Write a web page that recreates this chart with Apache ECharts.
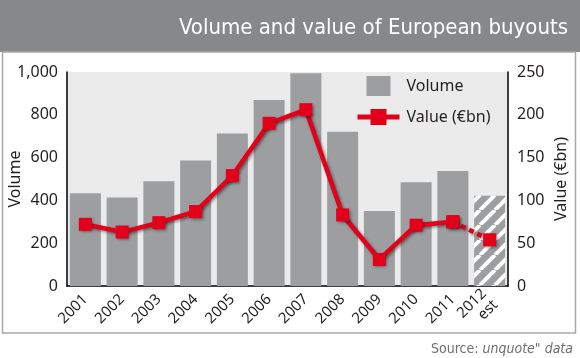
<!DOCTYPE html>
<html>
<head>
<meta charset="utf-8">
<script src="https://cdn.jsdelivr.net/npm/echarts@6/dist/echarts.min.js"></script>
<style>
html,body{margin:0;padding:0;background:#fff;}
#c{width:580px;height:358px;}
</style>
</head>
<body>
<div id="c"></div>
<script>
var categories = ['2001','2002','2003','2004','2005','2006','2007','2008','2009','2010','2011','2012\nest'];
var volume = [433, 413, 489, 586, 713, 869, 994, 721, 350, 485, 537, 422];
var valueBn = [72, 63, 74, 87, 129, 190, 206, 83, 31, 71, 75, 54];
var estimateIndex = 11;
var volumeTicks = {min: 0, max: 1000, interval: 200};
var valueTicks = {min: 0, max: 250, interval: 50};

var RED = '#e3001b';
var BAR = '#9d9ea0';
var FONT = '"Noto Sans", "Open Sans", sans-serif';
var NARROW = '"DejaVu Sans Condensed", "Liberation Sans Narrow", sans-serif';

function hatch() {
  var s = 15;
  var cv = document.createElement('canvas');
  cv.width = s; cv.height = s;
  var ctx = cv.getContext('2d');
  ctx.fillStyle = BAR;
  ctx.fillRect(0, 0, s, s);
  ctx.strokeStyle = '#ffffff';
  ctx.lineWidth = 4;
  [0, s, 2 * s].forEach(function (c) {
    ctx.beginPath();
    ctx.moveTo(c, 0);
    ctx.lineTo(c - s, s);
    ctx.stroke();
  });
  return cv;
}

var barData = volume.map(function (v, i) {
  if (i === estimateIndex) {
    return {value: v, itemStyle: {color: {image: hatch(), repeat: 'repeat'}}};
  }
  return v;
});
var solidLine = valueBn.map(function (v, i) { return i < estimateIndex ? v : null; });
var dashedLine = valueBn.map(function (v, i) { return i >= estimateIndex - 1 ? v : null; });

var chart = echarts.init(document.getElementById('c'), null, {renderer: 'canvas'});
var lineShadow = {shadowColor: 'rgba(0,0,0,0.45)', shadowBlur: 3, shadowOffsetX: 1.5, shadowOffsetY: 1.5};

chart.setOption({
  animation: false,
  graphic: [
    {type: 'rect', z: -10, shape: {x: 0, y: 0, width: 580, height: 52}, style: {fill: '#87888a'}},
    {type: 'rect', z: -10, shape: {x: 2.5, y: 52, width: 573, height: 281}, style: {fill: '#ffffff', stroke: '#a7a8aa', lineWidth: 1.5}}
  ],
  title: [{
    text: 'Volume and value of European buyouts',
    right: 7, top: 12,
    textStyle: {color: '#ffffff', fontFamily: NARROW, fontWeight: 'normal', fontSize: 22}
  }, {
    text: '{n|Source: }{i|unquote" data}',
    right: 2, top: 337,
    textStyle: {
      fontWeight: 'normal',
      rich: {
        n: {color: '#6d6e70', fontFamily: NARROW, fontSize: 14, fontWeight: 'normal'},
        i: {color: '#6d6e70', fontFamily: NARROW, fontSize: 14, fontWeight: 'normal', fontStyle: 'italic'}
      }
    }
  }],
  legend: {
    orient: 'vertical',
    left: 350, top: 71,
    itemWidth: 42, itemHeight: 20, itemGap: 13,
    lineStyle: {width: 5},
    textStyle: {fontFamily: FONT, fontSize: 16, color: '#231f20', padding: [0, 0, 0, 2]},
    data: [
      {name: 'Volume', icon: 'path://M0,0h24v20h-24z'},
      {name: 'Value (€bn)'}
    ]
  },
  grid: {left: 67, right: 72, top: 72, bottom: 72, show: true, backgroundColor: '#ebebeb', borderWidth: 0, outerBoundsMode: 'none', containLabel: false},
  xAxis: {
    type: 'category',
    data: categories,
    axisLine: {lineStyle: {color: '#000', width: 1.5}},
    axisTick: {inside: true, length: 5, lineStyle: {color: '#000', width: 1.5}},
    axisLabel: {rotate: 45, fontFamily: FONT, fontSize: 15, color: '#231f20', margin: 11, interval: 0, lineHeight: 16}
  },
  yAxis: [{
    type: 'value',
    min: volumeTicks.min, max: volumeTicks.max, interval: volumeTicks.interval,
    name: 'Volume', nameLocation: 'middle', nameGap: 44, nameMoveOverlap: false,
    nameTextStyle: {fontFamily: FONT, fontSize: 16, color: '#231f20'},
    axisLine: {show: true, lineStyle: {color: '#000', width: 1.5}},
    axisTick: {show: false},
    splitLine: {show: false},
    axisLabel: {fontFamily: FONT, fontSize: 16, color: '#231f20', margin: 9}
  }, {
    type: 'value',
    min: valueTicks.min, max: valueTicks.max, interval: valueTicks.interval,
    name: 'Value (€bn)', nameLocation: 'middle', nameGap: 45, nameMoveOverlap: false,
    nameTextStyle: {fontFamily: FONT, fontSize: 16, color: '#231f20'},
    axisLine: {show: true, lineStyle: {color: '#000', width: 1.5}},
    axisTick: {show: false},
    splitLine: {show: false},
    axisLabel: {fontFamily: FONT, fontSize: 16, color: '#231f20', margin: 9}
  }],
  series: [{
    name: 'Volume',
    type: 'bar',
    data: barData,
    barWidth: 31,
    itemStyle: {color: BAR}
  }, {
    name: 'Value (€bn)',
    type: 'line',
    yAxisIndex: 1,
    data: solidLine,
    symbol: 'rect', symbolSize: 13,
    lineStyle: Object.assign({color: RED, width: 4.5}, lineShadow),
    itemStyle: Object.assign({color: RED}, lineShadow),
    z: 5
  }, {
    name: 'Value (€bn)',
    type: 'line',
    yAxisIndex: 1,
    data: dashedLine,
    symbol: 'rect', symbolSize: 13,
    lineStyle: Object.assign({color: RED, width: 4.5, type: [5, 4]}, lineShadow),
    itemStyle: Object.assign({color: RED}, lineShadow),
    z: 4
  }]
});
</script>
</body>
</html>
